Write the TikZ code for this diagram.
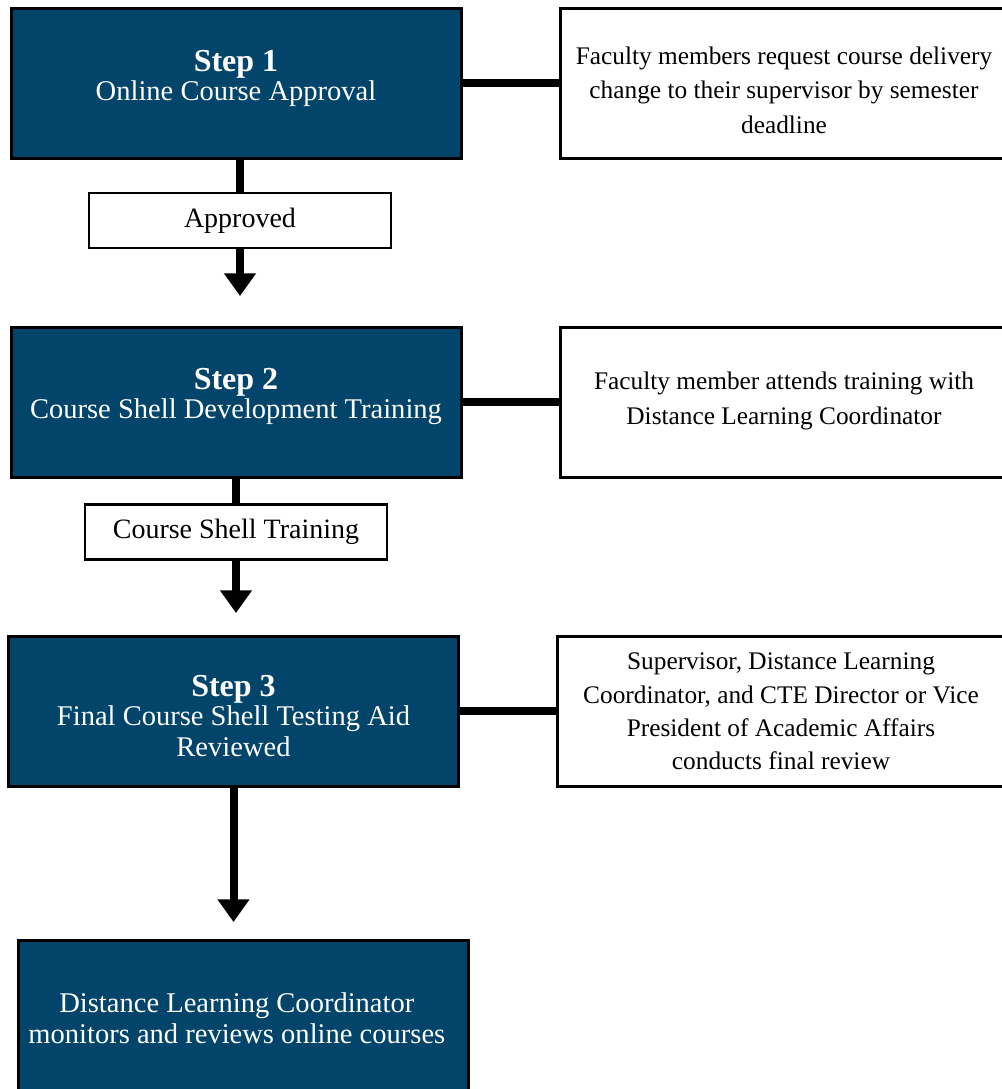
\documentclass[tikz,border=0pt]{standalone}
\usepackage{fontspec}
\setmainfont{Liberation Serif}
\usetikzlibrary{arrows.meta}
\definecolor{stepblue}{HTML}{03456A}

\begin{document}
\begin{tikzpicture}[x=0.75pt,y=-0.75pt,
stage/.style={minimum width=337.5pt,minimum height=112.5pt,inner sep=0pt,draw=black,line width=2.25pt,fill=stepblue,text=white,align=center,text depth=0pt,font=\fontsize{21.4}{23.3}\selectfont},
note/.style={minimum width=336pt,minimum height=112.5pt,inner sep=0pt,draw=black,line width=2.25pt,fill=white,align=center,text depth=0pt,font=\fontsize{19}{26}\selectfont},
tag/.style={minimum width=226.5pt,minimum height=41.25pt,inner sep=0pt,draw=black,line width=1.8pt,fill=white,font=\fontsize{21}{24}\selectfont},
link/.style={line width=6pt,draw=black},
arrow/.style={link,-{Triangle[length=17pt,width=23pt]}}
]
\useasboundingbox (0,0) rectangle (1002,1089);
\clip (0,0) rectangle (1002,1089);
% steps on the left
\node[style=stage,text height=26pt] (step1) at (236,83) {{\fontsize{24}{23.5}\selectfont\bfseries Step 1}\\[-2pt]Online Course Approval};
\node[style=stage,text height=24pt] (step2) at (236,402) {{\fontsize{24}{23.5}\selectfont\bfseries Step 2}\\[-2pt]Course Shell Development Training};
\node[style=stage,text height=68pt] (step3) at (233.5,711) {{\fontsize{24}{23.5}\selectfont\bfseries Step 3}\\[-2pt]Final Course Shell Testing Aid\\Reviewed};
\node[style=stage,text height=42.5pt] (monitor) at (243.5,1015) {Distance Learning Coordinator\hspace*{10pt}\\monitors and reviews online courses\hspace*{10pt}};
% notes on the right
\node[style=note,text height=75.75pt] (note1) at (784,83) {Faculty members request course delivery\\change to their supervisor by semester\\deadline};
\node[style=note,text height=33.5pt] (note2) at (784,402) {Faculty member attends training with\\Distance Learning Coordinator};
\node[style=note,text height=88.25pt,font=\fontsize{19}{25}\selectfont] (note3) at (781,711) {Supervisor, Distance Learning\\Coordinator, and CTE Director or Vice\\President of Academic Affairs\\conducts final review};
% labels on the arrows
\node[style=tag] (approved) at (240,220.5) {Approved};
\node[style=tag] (training) at (236,532) {Course Shell Training};
\coordinate (tip1) at (240,296);
\coordinate (tip2) at (236,613);
\coordinate (tip3) at (233.5,922);
\path[style=link] (step1.east) -- (note1.west);
\path[style=link] (step2.east) -- (note2.west);
\path[style=link] (step3.east) -- (note3.west);
\path[style=link] (approved.north) -- (approved.north |- step1.south);
\path[style=arrow] (approved.south) -- (tip1);
\path[style=link] (training.north) -- (training.north |- step2.south);
\path[style=arrow] (training.south) -- (tip2);
\path[style=arrow] (step3.south) -- (tip3);
\end{tikzpicture}
\end{document}
